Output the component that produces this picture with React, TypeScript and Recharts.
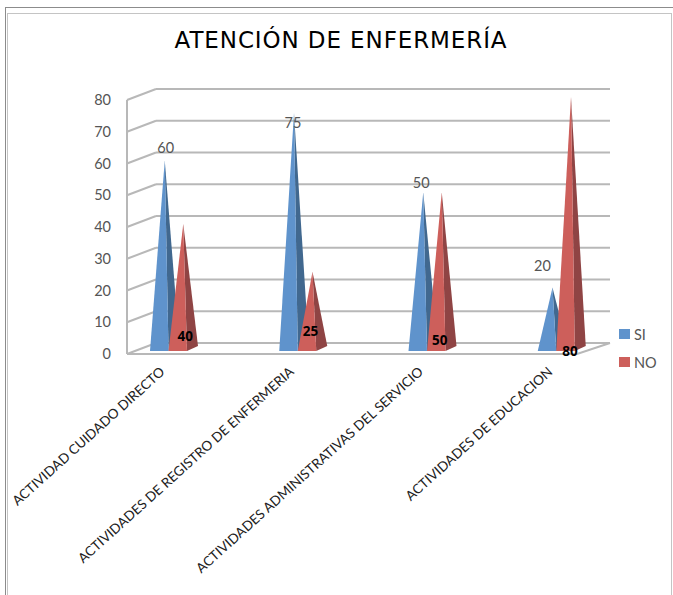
import React from 'react';
import { BarChart, Bar, XAxis, YAxis, CartesianGrid, LabelList } from 'recharts';

const categories = [
  'ACTIVIDAD CUIDADO DIRECTO',
  'ACTIVIDADES DE REGISTRO DE ENFERMERIA',
  'ACTIVIDADES ADMINISTRATIVAS DEL SERVICIO',
  'ACTIVIDADES DE EDUCACION',
];
const siValues = [60, 75, 50, 20];
const noValues = [40, 25, 50, 80];
const yTicks = [0, 10, 20, 30, 40, 50, 60, 70, 80];

const data = categories.map((name, i) => ({ name, si: siValues[i], no: noValues[i] }));

// label offsets: SI from the cone tip, NO from the cone base
const siLabelNudge = [[1, -13], [-1, 10], [-2, -9], [-10, -22]];
const noLabelNudge = [[2, -15], [-2, -20], [-2, -11], [-1, 0]];

const WIDTH = 673;
const HEIGHT = 595;
const PLOT_TOP = 97;
const PLOT_BOTTOM = 351;
const PLOT_LEFT = 104;
const PLOT_RIGHT = 621;
const CONE_DEPTH = 11;
const CONE_RISE = 5;

const BLUE = '#5f93cc';
const BLUE_SIDE = '#41688f';
const RED = '#cd5f5b';
const RED_SIDE = '#8f4444';
const GRID = '#b8b8b8';
const TEXT = '#555555';
const SANS = 'Lato, "Open Sans", sans-serif';

// Pyramid drawn from the bar rectangle the library hands over
const cone = (front: string, side: string) => (props: any) => {
  const { x, y, width, height } = props;
  const base = y + height;
  const peak = x + (width + CONE_DEPTH) / 2;
  const right = x + width;
  return (
    <g>
      <polygon points={`${right},${base} ${right + CONE_DEPTH},${base - CONE_RISE} ${peak},${y}`} fill={side} />
      <polygon points={`${x},${base} ${right},${base} ${peak},${y}`} fill={front} />
    </g>
  );
};

// Each horizontal grid value becomes a back wall line plus its slanted side wall line
const wallLine = (props: any) => {
  const y = props.y1;
  const isFloor = Math.abs(y - PLOT_BOTTOM) < 1;
  const isTop = Math.abs(y - PLOT_TOP) < 1;
  return (
    <g key={props.key} stroke={GRID} strokeWidth={2} fill="none">
      <line x1={156} y1={y - 8} x2={610} y2={y - 8} />
      <line x1={127} y1={y + 3} x2={156} y2={y - 8} />
      {isTop && <line x1={127} y1={y + 3} x2={127} y2={PLOT_BOTTOM + 3} />}
      {isFloor && <polyline points={`127,${y + 3} 577,${y + 3} 610,${y - 8}`} />}
    </g>
  );
};

const CategoryTick = (props: any) => {
  const { x, y, payload } = props;
  return (
    <text
      x={x - 3}
      y={y + 20}
      transform={`rotate(-42 ${x - 3} ${y + 20})`}
      textAnchor="end"
      fontFamily={SANS}
      fontSize={13.5}
      fill="#222222"
    >
      {payload.value}
    </text>
  );
};

const siLabel = (props: any) => {
  const { x, y, width, value, index } = props;
  const [dx, dy] = siLabelNudge[index];
  return (
    <text x={x + (width + CONE_DEPTH) / 2 + dx} y={y + dy + 5} textAnchor="middle" fontFamily={SANS} fontSize={14.5} fill={TEXT}>
      {value}
    </text>
  );
};

const noLabel = (props: any) => {
  const { x, y, width, height, value, index } = props;
  const [dx, dy] = noLabelNudge[index];
  return (
    <text x={x + (width + CONE_DEPTH) / 2 + dx} y={y + height + dy + 5} textAnchor="middle" fontFamily={'"Open Sans", sans-serif'} fontWeight="bold" fontSize={13.5} fill="#000000">
      {value}
    </text>
  );
};

const legendItems = [
  { name: 'SI', color: BLUE, top: 329 },
  { name: 'NO', color: RED, top: 357 },
];

const App: React.FC = () => (
  <div style={{ position: 'absolute', left: 0, top: 0, width: WIDTH, height: HEIGHT, background: '#ffffff', overflow: 'hidden' }}>
    {/* double window frame */}
    <div style={{ position: 'absolute', left: 5, top: 7, width: 680, height: 600, border: '1px solid #8c8c8c' }} />
    <div style={{ position: 'absolute', left: 7, top: 13, width: 663, height: 600, border: '1px solid #c4c4c4' }} />

    <div style={{ position: 'absolute', left: 0, top: 25, width: 682, textAlign: 'center', fontFamily: '"DejaVu Sans", sans-serif', fontSize: 23, letterSpacing: 0.9, lineHeight: '30px', color: '#000000' }}>
      ATENCIÓN DE ENFERMERÍA
    </div>

    <div style={{ position: 'absolute', left: 0, top: 0 }}>
      <BarChart
        width={WIDTH}
        height={HEIGHT}
        data={data}
        barSize={18.5}
        barGap={0}
        margin={{ top: PLOT_TOP, right: WIDTH - PLOT_RIGHT, bottom: 0, left: 0 }}
      >
        <CartesianGrid vertical={false} horizontal={wallLine} />
        <XAxis dataKey="name" height={HEIGHT - PLOT_BOTTOM} interval={0} axisLine={false} tickLine={false} tickSize={0} tick={CategoryTick} />
        <YAxis
          width={PLOT_LEFT}
          domain={[0, 80]}
          ticks={yTicks}
          interval={0}
          axisLine={false}
          tickLine={false}
          tickSize={0}
          tickMargin={0}
          tick={{ dx: 7, dy: 3, fill: TEXT, fontSize: 14.5, fontFamily: SANS }}
        />
        <Bar dataKey="si" name="SI" fill={BLUE} isAnimationActive={false} shape={cone(BLUE, BLUE_SIDE)}>
          <LabelList dataKey="si" content={siLabel} />
        </Bar>
        <Bar dataKey="no" name="NO" fill={RED} isAnimationActive={false} shape={cone(RED, RED_SIDE)}>
          <LabelList dataKey="no" content={noLabel} />
        </Bar>
      </BarChart>
    </div>

    {legendItems.map((item) => (
      <div key={item.name} style={{ position: 'absolute', left: 619, top: item.top, height: 10, display: 'flex', alignItems: 'center' }}>
        <span style={{ display: 'inline-block', width: 11, height: 10, background: item.color, marginRight: 4 }} />
        <span style={{ fontFamily: SANS, fontSize: 14.5, color: TEXT }}>{item.name}</span>
      </div>
    ))}
  </div>
);

export default App;
